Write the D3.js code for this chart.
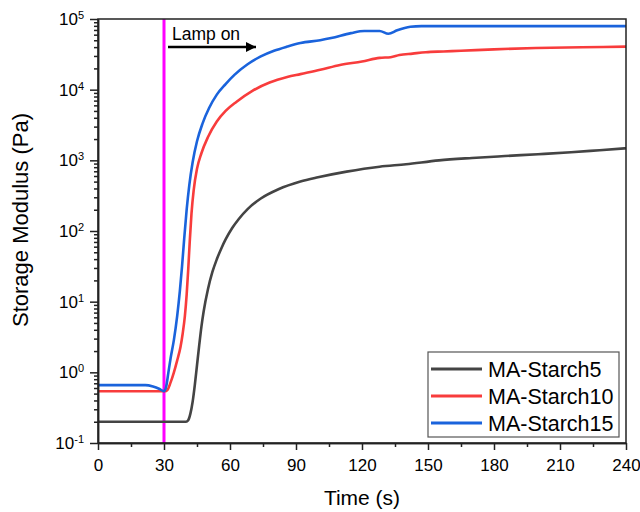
<!DOCTYPE html>
<html>
<head>
<meta charset="utf-8">
<script src="https://cdn.jsdelivr.net/npm/d3@7"></script>
<style>
  body{margin:0;background:#fff;}
  #canvas{width:640px;height:512px;}
  text{font-family:Arial,'Liberation Sans',sans-serif;fill:#000;}
</style>
</head>
<body>
<div id="canvas" class="canvas"></div>
<script>
// data (time in s, storage modulus in Pa)
var seriesNames = ['MA-Starch5','MA-Starch10','MA-Starch15'];
var seriesColors = ['#444444','#f83c3c','#1a63dc'];

var tStarch5 = [0,40,41,42,43,44,45,46,47,48,50,52,54,56,58,61,64,68,74,82,92,100,113,128,140,155,170,185,200,215,228,240];
var gStarch5 = [0.2,0.2,0.21,0.26,0.38,0.66,1.26,2.4,4.4,7.2,15.1,26.3,39.8,56.2,75.9,110,148,204,288,389,501,575,692,813,880,1000,1080,1150,1220,1300,1390,1480];

var tStarch10 = [0,30.5,31.5,33,34.5,36,37.5,38.5,39.5,40.3,41,41.7,42.5,43.5,45,47,50,54,58,63,70,78,86,92,101,110,120,128,133,137,143,149,157,165,180,199,220,240];
var gStarch10 = [0.54,0.54,0.56,0.72,1.0,1.48,2.29,3.55,6.3,12.6,28.2,70.8,178,380,759,1260,2140,3550,5010,6760,9550,12600,15100,16600,19100,22400,25100,28200,28800,30900,32400,33900,34700,35500,37200,38900,39800,40700];

var tStarch15 = [0,21.5,25,28,30,31,32,33,34.5,36,37.2,38.2,39.2,40.3,41.5,43,45,47.5,50.5,54,58,62,68,74,80,86,92,101,106,115,121,128,132,136,142,147,200,240];
var gStarch15 = [0.66,0.66,0.63,0.58,0.54,0.63,1.0,1.58,2.88,6.3,14.1,31.6,79.4,200,447,933,1860,3310,5500,8510,12000,16200,22900,29500,35500,40700,45700,50100,53700,63100,67600,67600,61700,69200,77600,79400,79400,79400];

var xTicks = [0,30,60,90,120,150,180,210,240];
var yExponents = [-1,0,1,2,3,4,5];
var lampTime = 30;
var lampLabel = 'Lamp on';

var m = {t:19,r:14,b:69,l:98};
var outerWidth = 640, outerHeight = 512;
var w = outerWidth - m.l - m.r,
    h = outerHeight - m.t - m.b;

var svg = d3.select('.canvas')
    .append('svg')
    .attr('width',outerWidth)
    .attr('height',outerHeight);
var plot = svg.append('g')
    .attr('transform','translate(' + m.l + ',' + m.t + ')');

var scaleX = d3.scaleLinear().domain([0,240]).range([0,w]);
var scaleY = d3.scaleLog().domain([0.1,1e5]).range([h,0]);

var series = [
  {name:seriesNames[0], color:seriesColors[0], t:tStarch5, g:gStarch5},
  {name:seriesNames[1], color:seriesColors[1], t:tStarch10, g:gStarch10},
  {name:seriesNames[2], color:seriesColors[2], t:tStarch15, g:gStarch15}
];

//lamp line
plot.append('line')
    .attr('x1',scaleX(lampTime)).attr('x2',scaleX(lampTime))
    .attr('y1',0).attr('y2',h)
    .attr('stroke','#ff00ff')
    .attr('stroke-width',3);

//curves
var line = d3.line()
    .x(function(d){return scaleX(d[0])})
    .y(function(d){return scaleY(d[1])})
    .curve(d3.curveMonotoneX);

plot.selectAll('.curve')
    .data(series)
    .enter()
    .append('path')
    .attr('class','curve')
    .attr('fill','none')
    .attr('stroke',function(d){return d.color})
    .attr('stroke-width',2.6)
    .attr('stroke-linejoin','round')
    .attr('d',function(d){
        return line(d.t.map(function(t,i){return [t,d.g[i]]}));
    });

//frame
plot.append('rect')
    .attr('width',w).attr('height',h)
    .attr('fill','none')
    .attr('stroke','#222')
    .attr('stroke-width',1.5);

//x axis
var minorX = d3.range(15,240,30);
var axisX = d3.axisBottom(scaleX)
    .tickValues(xTicks)
    .tickSize(7)
    .tickSizeOuter(0)
    .tickPadding(9)
    .tickFormat(d3.format('d'));
plot.append('g').attr('class','axis axis-x')
    .attr('transform','translate(0,'+h+')')
    .call(axisX);
plot.append('g').attr('class','axis axis-x-minor')
    .attr('transform','translate(0,'+h+')')
    .call(d3.axisBottom(scaleX).tickValues(minorX).tickSize(4).tickSizeOuter(0).tickFormat(''));

//y axis
var majorY = yExponents.map(function(e){return Math.pow(10,e)});
var minorY = [];
yExponents.slice(0,-1).forEach(function(e){
  for(var k=2;k<10;k++) minorY.push(k*Math.pow(10,e));
});
plot.append('g').attr('class','axis axis-y')
    .call(d3.axisLeft(scaleY).tickValues(majorY).tickSize(8).tickSizeOuter(0).tickFormat(''));
plot.append('g').attr('class','axis axis-y-minor')
    .call(d3.axisLeft(scaleY).tickValues(minorY).tickSize(4).tickSizeOuter(0).tickFormat(''));

plot.selectAll('.axis path, .axis line')
    .attr('stroke','#222')
    .attr('stroke-width',1.5);
plot.selectAll('.axis text')
    .style('font-size','17px')
    .attr('fill','#000');

var yLabels = plot.selectAll('.ylab')
    .data(yExponents)
    .enter()
    .append('text')
    .attr('class','ylab')
    .attr('x',-14)
    .attr('y',function(e){return scaleY(Math.pow(10,e))})
    .attr('dy','0.35em')
    .attr('text-anchor','end')
    .style('font-size','17px');
yLabels.append('tspan').text('10');
yLabels.append('tspan')
    .attr('dy','-0.55em')
    .style('font-size','11px')
    .text(function(e){return e});

//axis titles
svg.append('text')
    .attr('x',m.l + w/2)
    .attr('y',505)
    .attr('text-anchor','middle')
    .style('font-size','21px')
    .text('Time (s)');
svg.append('text')
    .attr('transform','translate(28,'+220+') rotate(-90)')
    .attr('text-anchor','middle')
    .style('font-size','22px')
    .text('Storage Modulus (Pa)');

//lamp annotation
svg.append('defs').append('marker')
    .attr('id','arrow')
    .attr('viewBox','0 0 10 10')
    .attr('refX',10).attr('refY',5)
    .attr('markerWidth',5).attr('markerHeight',4)
    .attr('markerUnits','strokeWidth')
    .attr('orient','auto')
    .append('path')
    .attr('d','M0,0L10,5L0,10z')
    .attr('fill','#000');
plot.append('text')
    .attr('x',scaleX(lampTime)+8)
    .attr('y',21)
    .style('font-size','17.5px')
    .text(lampLabel);
plot.append('line')
    .attr('x1',scaleX(lampTime)+4)
    .attr('x2',scaleX(lampTime)+92)
    .attr('y1',28).attr('y2',28)
    .attr('stroke','#000')
    .attr('stroke-width',2.5)
    .attr('marker-end','url(#arrow)');

//legend
var legend = svg.append('g').attr('transform','translate(428,352)');
legend.append('rect')
    .attr('width',191).attr('height',85)
    .attr('fill','#fff')
    .attr('stroke','#555')
    .attr('stroke-width',1.2);
var items = legend.selectAll('.item')
    .data(series)
    .enter()
    .append('g')
    .attr('class','item')
    .attr('transform',function(d,i){return 'translate(0,'+(17+i*27)+')'});
items.append('line')
    .attr('x1',3).attr('x2',54)
    .attr('stroke',function(d){return d.color})
    .attr('stroke-width',3);
items.append('text')
    .attr('x',60)
    .attr('dy','0.36em')
    .style('font-size','21.5px')
    .text(function(d){return d.name});
</script>
</body>
</html>
